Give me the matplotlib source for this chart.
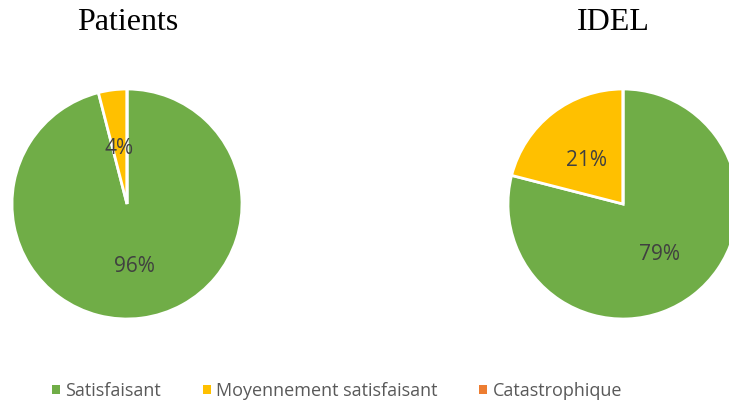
import matplotlib.pyplot as plt
from matplotlib.patches import Patch

categories = ['Satisfaisant', 'Moyennement satisfaisant', 'Catastrophique']
colors = ['#70AD47', '#FFC000', '#ED7D31']
patients = [96, 4, 0]
idel = [79, 21, 0]

W, H = 729, 403
fig = plt.figure(figsize=(W / 100, H / 100), dpi=100)


def draw_pie(cx, cy, r, values, title, tx):
    # axes box in pixels, converted to figure fractions
    ax = fig.add_axes([(cx - r) / W, (H - cy - r) / H, 2 * r / W, 2 * r / H])
    wedges, texts, autotexts = ax.pie(
        values, colors=colors, startangle=90, counterclock=False,
        autopct=lambda p: '%d%%' % round(p) if p > 0 else '',
        pctdistance=0.52, radius=1,
        wedgeprops=dict(edgecolor='white', linewidth=2),
        textprops=dict(color='#404040', fontsize=15, family='Open Sans'))
    for t in autotexts:
        x, y = t.get_position()
        t.set_position((x, y - 0.03))
    ax.set_xlim(-1, 1)
    ax.set_ylim(-1, 1)
    ax.set_aspect('equal')
    ax.axis('off')
    fig.text(tx / W, 1 - 22 / H, title, ha='center', va='center',
             fontsize=23, family='Liberation Serif')


draw_pie(127, 204, 115, patients, 'Patients', 128)
draw_pie(623, 204, 115, idel, 'IDEL', 613)

handles = [Patch(facecolor=c, edgecolor='none') for c in colors]
fig.legend(handles, categories, loc='center', bbox_to_anchor=(337 / W, 1 - 391 / H),
           ncol=3, frameon=False, handlelength=0.45, handleheight=0.45,
           handletextpad=0.3, columnspacing=2.3,
           prop=dict(family='Open Sans', size=13), labelcolor='#595959')

fig.savefig('out.png', dpi=100)
